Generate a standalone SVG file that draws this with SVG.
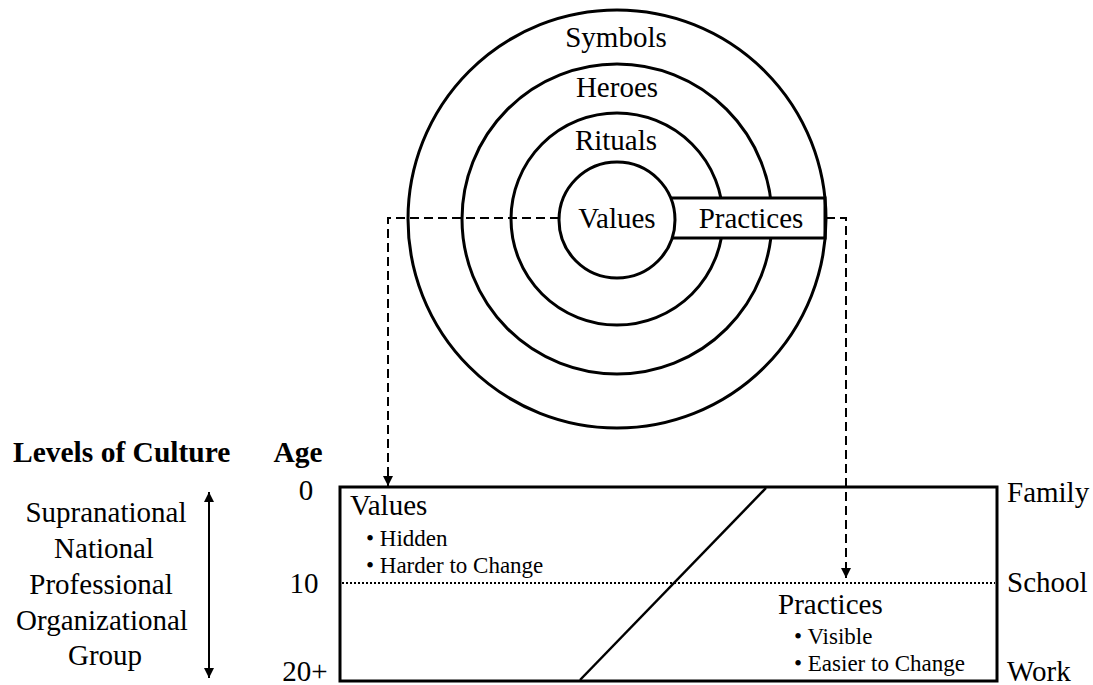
<svg xmlns="http://www.w3.org/2000/svg" width="1093" height="685" viewBox="0 0 1093 685">
  <style>
    .ring { fill: none; stroke: #000; stroke-width: 3; }
    .lbl { font-family: "Liberation Serif", "Times New Roman", serif; font-size: 29px; fill: #000; }
    .mid { text-anchor: middle; }
    .small { font-family: "Liberation Serif", "Times New Roman", serif; font-size: 23px; fill: #000; }
    .bold { font-family: "Liberation Serif", "Times New Roman", serif; font-size: 29.5px; font-weight: bold; fill: #000; }
    .dash { fill: none; stroke: #000; stroke-width: 2; stroke-dasharray: 9 5; }
  </style>
  <defs>
    <marker id="head" viewBox="0 0 10 10" refX="10" refY="5" markerWidth="10" markerHeight="10" markerUnits="userSpaceOnUse" orient="auto">
      <path d="M0,0 L10,5 L0,10 z" fill="#000"/>
    </marker>
    <marker id="head2" viewBox="0 0 10 10" refX="10" refY="5" markerWidth="10" markerHeight="10" markerUnits="userSpaceOnUse" orient="auto-start-reverse">
      <path d="M0,0 L10,5 L0,10 z" fill="#000"/>
    </marker>
  </defs>
  <rect width="1093" height="685" fill="#fff"/>

  <!-- onion rings -->
  <g id="ring-heroes"><circle class="ring" cx="617" cy="219" r="155"/></g>
  <g id="ring-rituals"><circle class="ring" cx="617" cy="219" r="106"/></g>

  <!-- connectors: dashed leaders from values / practices down to the age chart -->
  <g id="connectors">
    <path class="dash" d="M559,218 H388 V486" marker-end="url(#head)"/>
    <path class="dash" d="M826,218 H846 V578" marker-end="url(#head)"/>
    <line x1="209" y1="492" x2="209" y2="678" stroke="#000" stroke-width="2" marker-start="url(#head2)" marker-end="url(#head2)"/>
  </g>

  <g id="practices-band">
    <rect x="640" y="198" width="185" height="40" fill="#fff" stroke="#000" stroke-width="3"/>
    <text class="lbl mid" x="751" y="228">Practices</text>
  </g>
  <g id="ring-symbols">
    <circle class="ring" cx="617" cy="219" r="209"/>
    <text class="lbl mid" x="616" y="47">Symbols</text>
  </g>
  <g id="label-heroes"><text class="lbl mid" x="617" y="97">Heroes</text></g>
  <g id="label-rituals"><text class="lbl mid" x="616" y="150">Rituals</text></g>
  <g id="core-values">
    <circle cx="617" cy="220" r="58" fill="#fff" stroke="#000" stroke-width="3"/>
    <text class="lbl mid" x="617" y="228">Values</text>
  </g>

  <!-- age chart -->
  <g id="age-chart">
    <rect x="340" y="487" width="657" height="194" fill="none" stroke="#000" stroke-width="3"/>
    <line x1="342" y1="583" x2="995" y2="583" stroke="#000" stroke-width="2" stroke-dasharray="2 2"/>
    <line x1="766" y1="488" x2="580" y2="680" stroke="#000" stroke-width="2.5"/>
  </g>
  <g id="values-block">
    <text class="lbl" x="350" y="515">Values</text>
    <text class="small" x="366" y="546">• Hidden</text>
    <text class="small" x="366" y="573">• Harder to Change</text>
  </g>
  <g id="practices-block">
    <text class="lbl" x="778" y="614">Practices</text>
    <text class="small" x="794" y="644">• Visible</text>
    <text class="small" x="794" y="671">• Easier to Change</text>
  </g>

  <g id="stages">
    <text class="lbl" x="1007" y="502">Family</text>
    <text class="lbl" x="1007" y="592">School</text>
    <text class="lbl" x="1007" y="681">Work</text>
  </g>

  <g id="ages">
    <text class="bold mid" x="298" y="462">Age</text>
    <text class="lbl mid" x="306" y="500">0</text>
    <text class="lbl mid" x="304" y="593">10</text>
    <text class="lbl mid" x="305" y="681">20+</text>
  </g>

  <g id="levels">
    <text class="bold" x="13" y="462">Levels of Culture</text>
    <text class="lbl mid" x="106" y="522">Supranational</text>
    <text class="lbl mid" x="104" y="558">National</text>
    <text class="lbl mid" x="101" y="594">Professional</text>
    <text class="lbl mid" x="102" y="630">Organizational</text>
    <text class="lbl mid" x="105" y="665">Group</text>
  </g>
</svg>
